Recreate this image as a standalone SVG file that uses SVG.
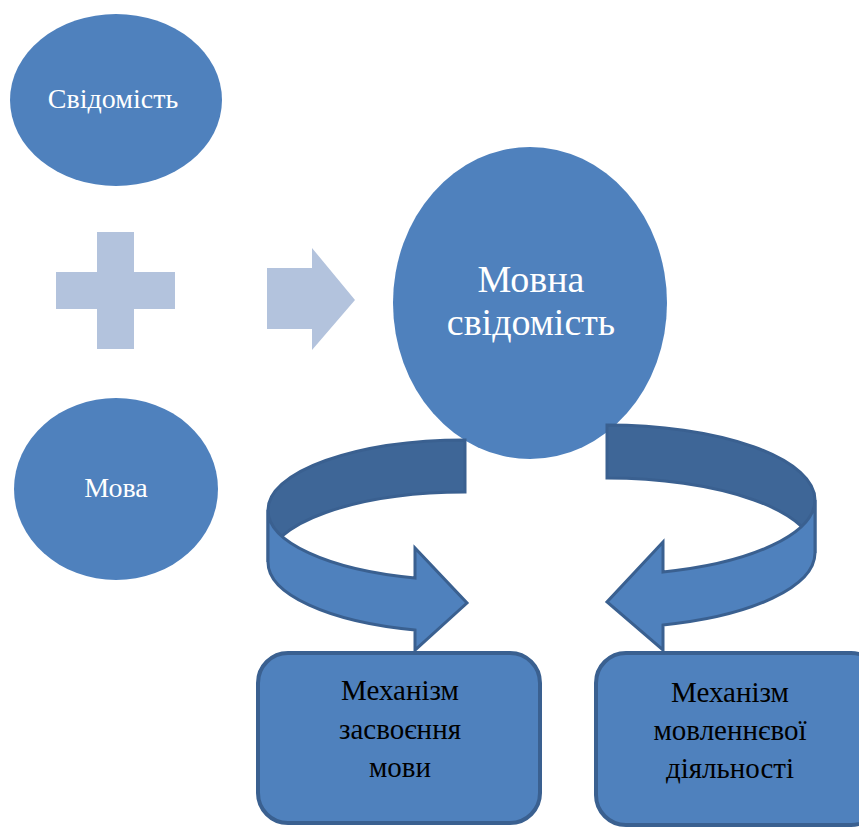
<svg xmlns="http://www.w3.org/2000/svg" width="859" height="830" viewBox="0 0 859 830">
<style>
.node{fill:#4F81BD}
.light{fill:#B3C3DD}
.band{stroke:#3A6090;stroke-width:3;stroke-linejoin:miter}
.back{fill:#3E6697}
.front{fill:#4F81BD}
.box{fill:#4F81BD;stroke:#3A6090;stroke-width:4}
.wt{fill:#fff;text-anchor:middle}
.bt{fill:#000;text-anchor:middle;font-size:29px}
</style>
<rect width="859" height="830" fill="#fff"/>
<g id="svidomist">
<ellipse class="node" cx="116" cy="100" rx="106" ry="86"/>
<text class="wt" x="113" y="108" font-size="28" font-family="Liberation Serif, DejaVu Serif, serif">Свідомість</text>
</g>
<g id="plus">
<rect class="light" x="97" y="232" width="37" height="117"/>
<rect class="light" x="56" y="272" width="119" height="37"/>
</g>
<g id="mova">
<ellipse class="node" cx="116" cy="489" rx="102" ry="91"/>
<text class="wt" x="116" y="497" font-size="28" font-family="Liberation Serif, DejaVu Serif, serif">Мова</text>
</g>
<g id="arrow-right">
<polygon class="light" points="267,268 312,268 312,248 355,300 312,350 312,329 267,329"/>
</g>
<g id="movna-svidomist">
<ellipse class="node" cx="530" cy="303" rx="137" ry="156"/>
<text class="wt" x="531" y="292" font-size="38" font-family="Liberation Serif, DejaVu Serif, serif">Мовна</text>
<text class="wt" x="531" y="335" font-size="38" font-family="Liberation Serif, DejaVu Serif, serif">свідомість</text>
</g>
<g id="connectors">
<g id="loop-left">
<path class="band back" d="M465,440 A197,70 0 0 0 268,510 L268,562 A197,70 0 0 1 465,492 Z"/>
<path class="band front" d="M268,510 A197,70 0 0 0 415,578 L415,548 L467,603 L415,650 L415,630 A197,70 0 0 1 268,562 Z"/>
</g>
<g id="loop-right">
<path class="band back" d="M607,425 A208,75 0 0 1 815,500 L815,553 A208,75 0 0 0 607,478 Z"/>
<path class="band front" d="M815,500 A208,75 0 0 1 663,572 L663,542 L607,602 L663,650 L663,625 A208,75 0 0 0 815,553 Z"/>
</g>
</g>
<g id="mekh-zasvoiennia" font-family="Liberation Serif, DejaVu Serif, serif">
<rect class="box" x="258" y="653" width="282" height="170" rx="30"/>
<text class="bt" x="400" y="700">Механізм</text>
<text class="bt" x="400" y="739">засвоєння</text>
<text class="bt" x="400" y="777">мови</text>
</g>
<g id="mekh-movlennievoi" font-family="Liberation Serif, DejaVu Serif, serif">
<rect class="box" x="596" y="653" width="285" height="172" rx="30"/>
<text class="bt" x="730" y="702">Механізм</text>
<text class="bt" x="730" y="740">мовленнєвої</text>
<text class="bt" x="730" y="778">діяльності</text>
</g>
</svg>
